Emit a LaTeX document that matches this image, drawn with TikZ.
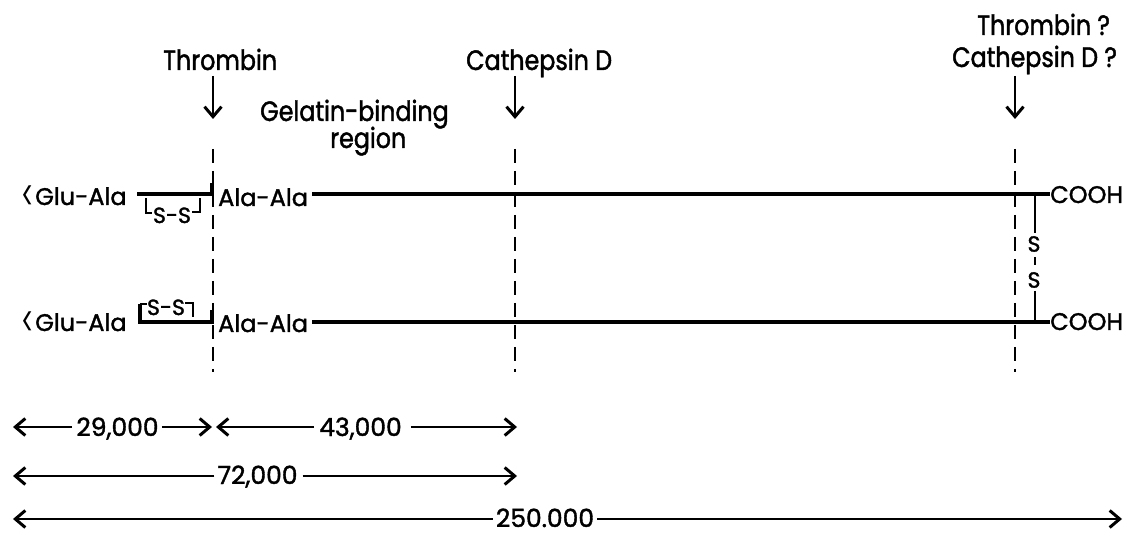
\documentclass[tikz,border=0pt]{standalone}
\usepackage{fontspec}
\setmainfont{Poppins}
\newfontfamily\headfont[FakeStretch=0.85, FakeBold=1.5]{Poppins}
\newfontfamily\chainfont[FakeBold=1.5]{Poppins}
\usetikzlibrary{arrows.meta}
% pyroglutamyl chevron in front of the N-terminal residue
\newcommand\pyro{\raisebox{-6pt}{\normalfont\fontsize{26}{26}\selectfont\scalebox{0.9}[1.6]{<}}\kern1pt}

\begin{document}
\begin{tikzpicture}[x=1pt,y=-1pt,
  top/.style={inner sep=0pt, font=\headfont\fontsize{28}{30}\selectfont},
  lbl/.style={inner sep=0pt, font=\chainfont\fontsize{24}{26}\selectfont},
  small/.style={inner sep=0pt, font=\chainfont\fontsize{22}{24}\selectfont},
  num/.style={inner sep=0pt, text depth=0pt, font=\chainfont\fontsize{25}{28}\selectfont},
  chain/.style={line width=3.4pt},
  cut/.style={line width=2.4pt, dash pattern=on 14pt off 8pt},
  brk/.style={line width=2.4pt},
  barb/.tip={Straight Barb[length=10pt,width=17pt,line width=3pt]},
  down/.style={line width=2.4pt, -barb},
  dimline/.style={line width=2.6pt, -barb},
]
\path[use as bounding box] (0,0) rectangle (1130,534);

% ---- enzyme labels and cleavage arrows
\node[top, anchor=base west] (thr) at (163,70) {Thrombin};
\node[top, anchor=base west] (cat) at (466,70) {Cathepsin D};
\node[top, anchor=base west] (thr2) at (977,35) {Thrombin ?};
\node[top, anchor=base west] (cat2) at (952,67) {Cathepsin D ?};
\node[top, anchor=base west, text depth=0pt] (gel) at (260,121) {Gelatin-binding};
\node[top, anchor=base west, text height=12pt] (reg) at (330,148) {region};

\coordinate (a1s) at (213,76);  \coordinate (a1e) at (213,119);
\coordinate (a2s) at (515,76);  \coordinate (a2e) at (515,119);
\coordinate (a3s) at (1015,76); \coordinate (a3e) at (1015,119);
\draw[down] (a1s) -- (a1e);
\draw[down] (a2s) -- (a2e);
\draw[down] (a3s) -- (a3e);

% ---- cleavage sites (dashed)
\coordinate (k1t) at (213,149);  \coordinate (k1b) at (213,372);
\coordinate (k2t) at (515,149);  \coordinate (k2b) at (515,372);
\coordinate (k3t) at (1015,149); \coordinate (k3b) at (1015,372);
\draw[cut] (k1t) -- (k1b);
\draw[cut] (k2t) -- (k2b);
\draw[cut] (k3t) -- (k3b);

% ---- upper chain
\coordinate (y1) at (0,194);
\node[lbl, anchor=base west] (glu1) at (21,205) {\pyro Glu-Ala};
\node[lbl, anchor=base west] (ala1) at (218,206) {Ala-Ala};
\node[lbl, anchor=base west] (cooh1) at (1050,203) {COOH};
\coordinate (j1) at (212,194);
\draw[chain] (137,194) -- (j1) -- ++(0,-11);
\draw[chain] (ala1.east |- y1) ++(4,0) -- (cooh1.west |- y1);
% intrachain disulfide, upper
\node[small, anchor=base] (ss1) at (172,223) {S-S};
\coordinate (b1l) at (146,198); \coordinate (b1r) at (200,198);
\draw[brk] (b1l) -- (146,213) -- (152,213);
\draw[brk] (192,212) -- (200,212) -- (b1r);

% ---- lower chain
\coordinate (y2) at (0,322);
\node[lbl, anchor=base west] (glu2) at (21,331) {\pyro Glu-Ala};
\node[lbl, anchor=base west] (ala2) at (218,332) {Ala-Ala};
\node[lbl, anchor=base west] (cooh2) at (1050,330) {COOH};
\coordinate (j2) at (212,322);
\draw[chain] (140,304) -- (140,322) -- (j2) -- ++(0,-12);
\draw[chain] (ala2.east |- y2) ++(4,0) -- (cooh2.west |- y2);
% intrachain disulfide, lower
\node[small, anchor=base] (ss2) at (166,315) {S-S};
\draw[brk] (140,304) -- (147,304);
\draw[brk] (185,303) -- (193,303) -- (193,317);

% ---- interchain disulfide near the C-terminus
\node[small] (s1) at (1034,244) {S};
\node[small] (s2) at (1034,280) {S};
\draw[brk] (1035,194) -- (1035,233);
\draw[brk] (1035,257) -- (1035,265);
\draw[brk] (1035,291) -- (1035,322);

% ---- molecular weight scale
\node[num, anchor=base] (m29) at (117.5,436) {29,000};
\node[num, anchor=base] (m43) at (360.5,436) {43,000};
\node[num, anchor=base] (m72) at (257.5,484) {72,000};
\node[num, anchor=base] (m250) at (545,527) {250.000};
\coordinate (r1l) at (13,427);  \coordinate (r1m) at (212,427);
\coordinate (r1n) at (216,427); \coordinate (r1r) at (517,427);
\coordinate (r2l) at (13,476);  \coordinate (r2r) at (517,476);
\coordinate (r3l) at (13,519);  \coordinate (r3r) at (1122,519);
\draw[dimline] ([xshift=-4pt]m29.west |- r1l) -- (r1l);
\draw[dimline] ([xshift=3pt]m29.east |- r1l) -- (r1m);
\draw[dimline] ([xshift=-5pt]m43.west |- r1l) -- (r1n);
\draw[dimline] ([xshift=9pt]m43.east |- r1l) -- (r1r);
\draw[dimline] ([xshift=-3pt]m72.west |- r2l) -- (r2l);
\draw[dimline] ([xshift=5pt]m72.east |- r2l) -- (r2r);
\draw[dimline] ([xshift=-3pt]m250.west |- r3l) -- (r3l);
\draw[dimline] ([xshift=3pt]m250.east |- r3l) -- (r3r);
\end{tikzpicture}
\end{document}
